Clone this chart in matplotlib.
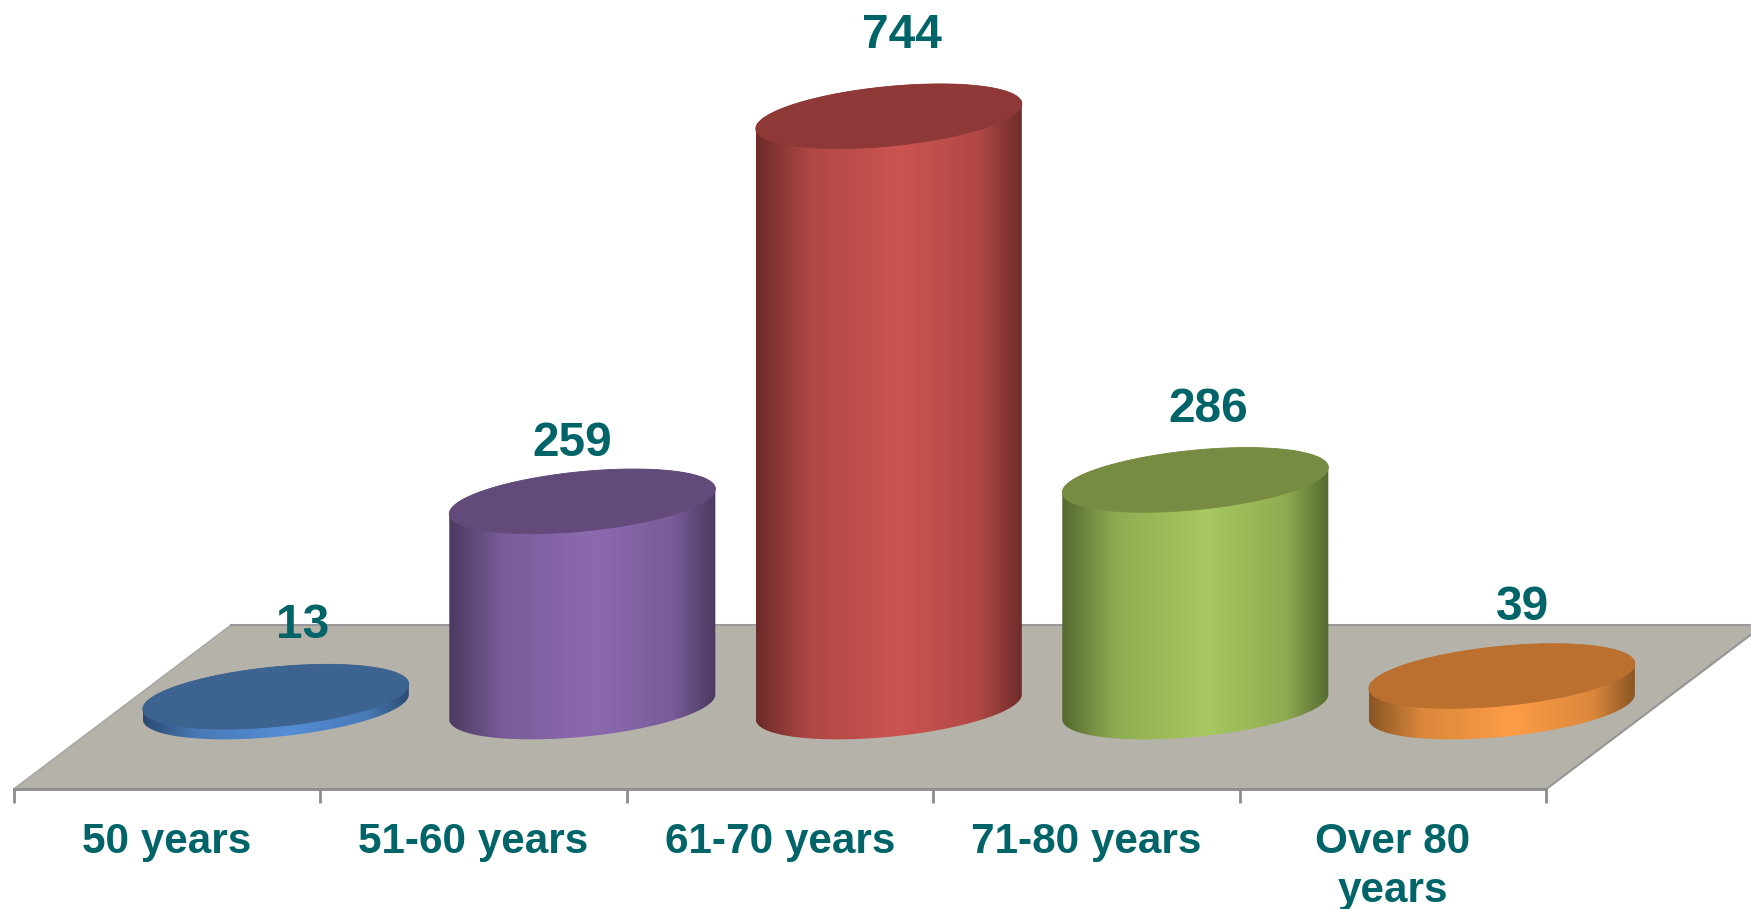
import numpy as np
import matplotlib
matplotlib.use('Agg')
import matplotlib.pyplot as plt
from matplotlib.colors import LinearSegmentedColormap, to_rgb
from matplotlib.patches import Polygon

plt.rcParams['font.family'] = ['Liberation Sans', 'DejaVu Sans']

# data
categories = ['50 years', '51-60 years', '61-70 years', '71-80 years', 'Over 80\nyears']
values = [13, 259, 744, 286, 39]

# colours per bar: edge of side, centre of side, top face
side_edge = ['#2b4a70', '#4b3a60', '#6c2b29', '#55692f', '#8a5524']
side_mid = ['#558ed5', '#8c6ab0', '#cc5451', '#a8c860', '#fd9d46']
top_face = ['#3d6391', '#624b7a', '#8e3937', '#778c42', '#bb7030']
text_col = '#006468'
floor_col = '#b5b2aa'

# label offset from the top of the bar, in points
label_dx = [19.5, -7.5, 9.5, 9.5, 15]
label_dy = [51, 42, 58, 51, 49]

# scales: one category = 306.5 px, one unit = 0.794 px
dpi = 100
W, H = 1751, 909
cat_px = 306.5
unit_px = 0.794
x0_px, y0_px = 275.8, 707.0
depth_x = 0.355    # floor depth in category units
depth_y = 103.4    # floor depth in value units
rad_x = 0.434      # ellipse of the cylinder
rad_tilt = 15.7
rad_y = 37.6

fig = plt.figure(figsize=(W / dpi, H / dpi), dpi=dpi)
ax = fig.add_axes([0, 0, 1, 1])
xlim = (-x0_px / cat_px, (W - x0_px) / cat_px)
ylim = (-(H - y0_px) / unit_px, y0_px / unit_px)
ax.axis('off')

n = len(values)
left, right = -0.5, n - 0.5

# floor
floor = [(left - depth_x, -depth_y), (right - depth_x, -depth_y),
         (right + depth_x, depth_y), (left + depth_x, depth_y)]
ax.add_patch(Polygon(floor, closed=True, fc=floor_col, ec='none', zorder=1))
ax.plot([left - depth_x, left + depth_x], [-depth_y, depth_y], color='#a8a8a4', lw=1.2, zorder=1.5)
ax.plot([right - depth_x, right + depth_x], [-depth_y, depth_y], color='#959595', lw=1.5, zorder=1.5)
ax.plot([left + depth_x, right + depth_x], [depth_y, depth_y], color='#9a9a9a', lw=1.5, zorder=1.5)
ax.plot([left - depth_x, right - depth_x], [-depth_y, -depth_y], color='#8c8c8c', lw=2, zorder=1.5)

# ticks
ticks = np.arange(n + 1) - 0.5 - depth_x
ax.vlines(ticks, -depth_y - 17, -depth_y, color='#8c8c8c', lw=2, zorder=1.5)


def ellipse(cx, cy, t):
    return cx + rad_x * np.cos(t), cy + rad_tilt * np.cos(t) + rad_y * np.sin(t)


# cylinders
grad = np.linspace(0, 1, 256).reshape(1, -1)
for i, v in enumerate(values):
    e, m = np.array(to_rgb(side_edge[i])), np.array(to_rgb(side_mid[i]))
    blend = tuple(0.3 * e + 0.7 * m)
    cm = LinearSegmentedColormap.from_list(
        'c%d' % i, [(0, side_edge[i]), (0.2, blend), (0.54, side_mid[i]), (0.84, blend), (1, side_edge[i])])

    xb, yb = ellipse(i, 0, np.linspace(np.pi, 2 * np.pi, 120))
    xt, yt = ellipse(i, v, np.linspace(0, np.pi, 120))
    side = Polygon(np.column_stack([np.r_[xb, xt], np.r_[yb, yt]]), closed=True,
                   transform=ax.transData, fc='none', ec='none')
    ax.add_patch(side)
    im = ax.imshow(grad, cmap=cm, aspect='auto', zorder=2 + i * 0.1,
                   extent=(i - rad_x, i + rad_x, -rad_y - rad_tilt, v + rad_y + rad_tilt),
                   interpolation='bilinear')
    im.set_clip_path(side)

    xe, ye = ellipse(i, v, np.linspace(0, 2 * np.pi, 240))
    ax.add_patch(Polygon(np.column_stack([xe, ye]), closed=True, fc=top_face[i],
                         ec=top_face[i], lw=0.6, zorder=2.05 + i * 0.1))

    # value label
    ax.annotate(str(v), xy=(i, v), xytext=(label_dx[i], label_dy[i]), textcoords='offset points',
                ha='center', va='center', fontsize=34.5, fontweight='bold', color=text_col, zorder=5)

# category labels
for i, c in enumerate(categories):
    ax.text(i - depth_x, -depth_y - 41, c, ha='center', va='top', fontsize=30.4,
            fontweight='bold', color=text_col, linespacing=1.3, zorder=5)

ax.set_xlim(*xlim)
ax.set_ylim(*ylim)

fig.savefig('out.png', dpi=dpi, facecolor='white')
